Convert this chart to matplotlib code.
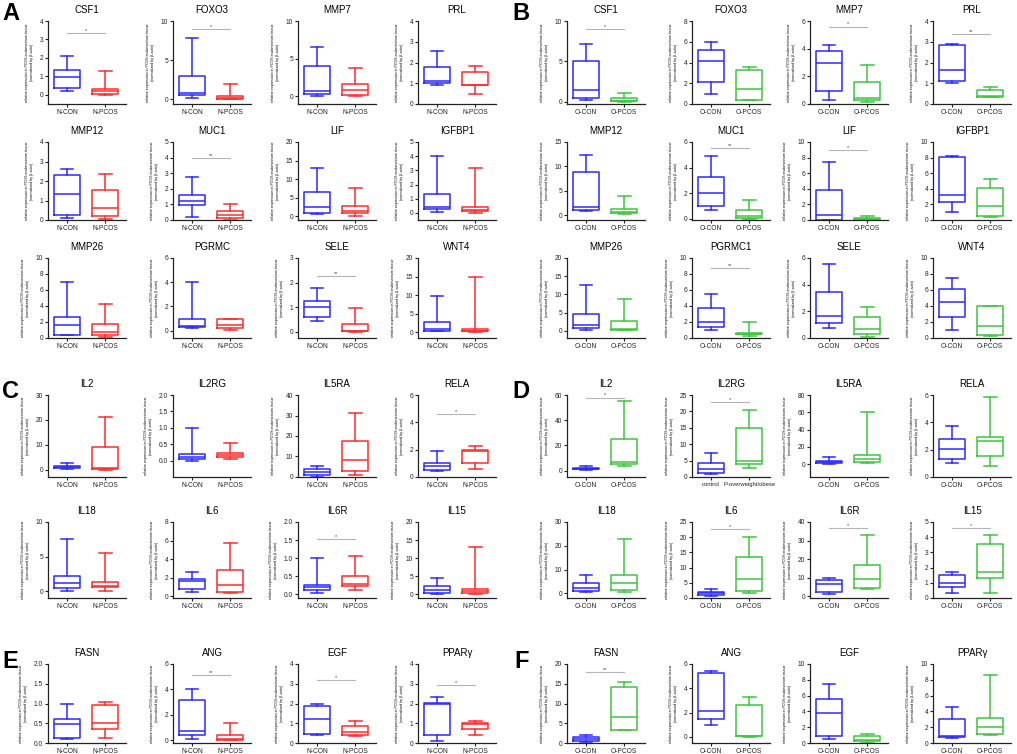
import matplotlib
matplotlib.use("Agg")
import matplotlib.pyplot as plt

plt.rcParams['font.family'] = ['Liberation Sans', 'DejaVu Sans']

# ---------------- DATA ----------------
# each box: [min, q1, median, q3, max]
A_titles = ["CSF1", "FOXO3", "MMP7", "PRL", "MMP12", "MUC1", "LIF", "IGFBP1",
            "MMP26", "PGRMC", "SELE", "WNT4"]
A_con = [[0.2, 0.38, 0.95, 1.35, 2.12], [0.2, 0.5, 0.8, 3.0, 7.8], [0.1, 0.3, 0.7, 4.0, 6.5],
         [0.93, 1.0, 1.1, 1.8, 2.55], [0.08, 0.27, 1.33, 2.3, 2.63], [0.2, 0.95, 1.25, 1.6, 2.78],
         [0.7, 1.0, 2.5, 6.6, 13.1], [0.05, 0.25, 0.4, 1.3, 4.0], [0.4, 0.4, 1.6, 2.6, 7.0],
         [0.25, 0.3, 0.35, 1.0, 4.0], [0.45, 0.62, 1.0, 1.25, 1.8], [0.3, 0.5, 1.0, 2.7, 9.7]]
A_pcos = [[0.0, 0.05, 0.2, 0.3, 1.27], [0.0, 0.05, 0.15, 0.4, 2.0], [0.05, 0.2, 0.9, 1.7, 3.8],
          [0.48, 0.9, 0.93, 1.55, 1.85], [0.05, 0.2, 0.6, 1.55, 2.38], [0.0, 0.15, 0.3, 0.55, 1.0],
          [0.2, 0.9, 1.3, 2.7, 7.6], [0.02, 0.1, 0.2, 0.4, 3.15], [0.1, 0.4, 0.8, 1.8, 4.2],
          [0.05, 0.25, 0.5, 0.95, 1.0], [0.0, 0.03, 0.05, 0.3, 0.97], [0.0, 0.3, 0.5, 0.8, 14.8]]
A_sig = ["*", "*", "", "", "", "**", "", "", "", "", "**", ""]
A_sig_y = [3.35, 9.0, 0, 0, 0, 4.0, 0, 0, 0, 0, 2.25, 0]
A_yticks = [[0, 1, 2, 3, 4], [0, 5, 10], [0, 5, 10], [0, 1, 2, 3, 4], [0, 1, 2, 3, 4],
            [0, 1, 2, 3, 4, 5], [0, 5, 10, 15, 20], [0, 1, 2, 3, 4, 5], [0, 2, 4, 6, 8, 10],
            [0, 2, 4, 6], [0, 1, 2, 3], [0, 5, 10, 15, 20]]
A_ybottom = [-0.5, -0.6, -1.0, 0, 0, 0, -1.0, -0.5, 0, -0.6, -0.25, -1.5]
A_groups = ["N-CON", "N-PCOS"]

B_titles = ["CSF1", "FOXO3", "MMP7", "PRL", "MMP12", "MUC1", "LIF", "IGFBP1",
            "MMP26", "PGRMC1", "SELE", "WNT4"]
B_con = [[0.25, 0.5, 1.4, 5.0, 7.2], [1.0, 2.15, 4.15, 5.25, 6.0], [0.3, 0.95, 3.0, 3.85, 4.25],
         [1.0, 1.1, 1.65, 2.85, 2.9], [0.8, 1.0, 1.6, 8.8, 12.4], [0.7, 1.0, 2.05, 3.3, 4.9],
         [0.0, 0.05, 0.65, 3.8, 7.4], [1.0, 2.25, 3.25, 8.1, 8.25], [0.3, 0.8, 1.6, 4.6, 12.6],
         [1.0, 1.4, 2.05, 3.7, 5.5], [0.75, 1.15, 1.65, 3.45, 5.55], [1.0, 2.6, 4.5, 6.1, 7.55]]
B_pcos = [[0.0, 0.05, 0.1, 0.5, 1.1], [0.35, 0.4, 1.45, 3.3, 3.6], [0.15, 0.3, 0.45, 1.6, 2.85],
          [0.33, 0.35, 0.38, 0.68, 0.8], [0.2, 0.4, 0.6, 1.3, 4.0], [0.0, 0.05, 0.25, 0.65, 1.5],
          [0.0, 0.02, 0.1, 0.3, 0.45], [0.35, 0.45, 1.75, 4.1, 5.3], [0.1, 0.3, 0.4, 2.8, 8.8],
          [0.3, 0.45, 0.55, 0.65, 1.95], [0.05, 0.3, 0.65, 1.55, 2.3], [0.3, 0.35, 1.55, 4.0, 4.05]]
B_sig = ["*", "", "*", "**", "", "**", "*", "", "", "**", "", ""]
B_sig_y = [9.0, 0, 5.6, 3.35, 0, 5.5, 9.0, 0, 0, 8.7, 0, 0]
B_yticks = [[0, 5, 10], [0, 2, 4, 6, 8], [0, 2, 4, 6], [0, 1, 2, 3, 4], [0, 5, 10, 15],
            [0, 2, 4, 6], [0, 2, 4, 6, 8, 10], [0, 2, 4, 6, 8, 10], [0, 5, 10, 15, 20],
            [0, 2, 4, 6, 8, 10], [0, 2, 4, 6], [0, 2, 4, 6, 8, 10]]
B_ybottom = [-0.3, 0, 0, 0, -1.0, -0.1, 0, 0, -2.0, 0, 0, 0]
B_groups = ["O-CON", "O-PCOS"]

C_titles = ["IL2", "IL2RG", "IL5RA", "RELA", "IL18", "IL6", "IL6R", "IL15"]
C_con = [[0.3, 0.5, 1.0, 1.5, 2.6], [0.0, 0.05, 0.1, 0.2, 1.0], [0.0, 1.0, 2.5, 4.0, 5.2],
         [0.45, 0.5, 0.8, 1.0, 1.9], [0.0, 0.4, 1.1, 2.2, 7.6], [0.45, 0.75, 1.6, 1.85, 2.6],
         [0.05, 0.12, 0.2, 0.25, 1.0], [0.0, 0.5, 1.3, 2.2, 4.6]]
C_pcos = [[0.0, 0.3, 0.6, 9.2, 21.0], [0.05, 0.1, 0.18, 0.23, 0.55], [1.0, 3.0, 8.5, 17.5, 31.3],
          [0.55, 1.0, 1.9, 2.0, 2.3], [0.0, 0.6, 0.8, 1.3, 5.5], [0.3, 0.4, 1.25, 2.8, 5.75],
          [0.12, 0.22, 0.3, 0.5, 1.07], [0.0, 0.5, 1.0, 1.5, 13.0]]
C_sig = ["", "", "", "*", "", "", "*", ""]
C_sig_y = [0, 0, 0, 4.6, 0, 0, 1.53, 0]
C_yticks = [[0, 10, 20, 30], [0.0, 0.5, 1.0, 1.5, 2.0], [0, 10, 20, 30, 40], [0, 2, 4, 6],
            [0, 5, 10], [0, 2, 4, 6, 8], [0.0, 0.5, 1.0, 1.5, 2.0], [0, 5, 10, 15, 20]]
C_ybottom = [-3.0, -0.5, 0, 0, -1.0, -0.2, -0.1, -1.0]
C_groups = ["N-CON", "N-PCOS"]

D_titles = ["IL2", "IL2RG", "IL5RA", "RELA", "IL18", "IL6", "IL6R", "IL15"]
D_con = [[0.5, 1.0, 1.5, 2.5, 3.5], [1.0, 1.2, 2.3, 4.2, 7.4], [0.5, 1.5, 2.5, 3.5, 8.5],
         [1.0, 1.35, 2.05, 2.8, 3.75], [0.5, 1.0, 2.2, 4.5, 7.7], [0.7, 1.1, 1.5, 2.0, 2.9],
         [1.0, 2.3, 6.3, 8.7, 9.8], [0.35, 0.7, 1.0, 1.5, 1.72]]
D_pcos = [[3.5, 5.0, 7.0, 25.0, 55.0], [2.6, 3.9, 4.9, 14.8, 20.3], [1.0, 2.5, 5.5, 10.5, 60.0],
          [0.8, 1.5, 2.6, 2.9, 5.85], [0.5, 1.5, 4.2, 7.8, 22.7], [1.8, 2.2, 6.2, 13.4, 20.0],
          [4.0, 4.5, 9.0, 17.0, 33.0], [0.35, 1.3, 1.72, 3.55, 4.17]]
D_sig = ["*", "*", "", "", "", "*", "*", "*"]
D_sig_y = [58, 23, 0, 0, 0, 22.7, 37, 4.6]
D_yticks = [[0, 20, 40, 60], [0, 5, 10, 15, 20, 25], [0, 20, 40, 60, 80], [0, 2, 4, 6],
            [0, 10, 20, 30], [0, 5, 10, 15, 20, 25], [0, 10, 20, 30, 40], [0, 1, 2, 3, 4, 5]]
D_ybottom = [-5.0, 0, -15.0, 0, -2.0, 0, -1.0, 0]
D_groups = ["O-CON", "O-PCOS"]
D_groups_il2rg = ["control", "P-overweight/obese"]

E_titles = ["FASN", "ANG", "EGF", "PPARγ"]
E_con = [[0.1, 0.13, 0.48, 0.62, 1.0], [0.1, 0.45, 0.75, 3.2, 4.0],
         [0.4, 0.45, 1.2, 1.88, 1.95], [0.1, 0.4, 2.0, 2.05, 2.32]]
E_pcos = [[0.12, 0.35, 0.5, 0.95, 1.05], [0.0, 0.05, 0.1, 0.45, 1.35],
          [0.33, 0.42, 0.58, 0.85, 1.1], [0.4, 0.72, 0.95, 1.02, 1.12]]
E_sig = ["", "**", "*", "*"]
E_sig_y = [0, 5.1, 3.2, 2.95]
E_yticks = [[0.0, 0.5, 1.0, 1.5, 2.0], [0, 2, 4, 6], [0, 1, 2, 3, 4], [0, 1, 2, 3, 4]]
E_ybottom = [0, -0.2, 0, 0]
E_groups = ["N-CON", "N-PCOS"]

F_titles = ["FASN", "ANG", "EGF", "PPARγ"]
F_con = [[0.3, 0.6, 0.9, 1.5, 2.0], [1.0, 1.5, 2.1, 5.25, 5.45],
         [0.55, 0.9, 3.75, 5.6, 7.45], [0.6, 0.7, 0.9, 3.05, 4.6]]
F_pcos = [[3.2, 3.3, 6.5, 14.1, 15.5], [0.0, 0.05, 0.1, 2.6, 3.3],
          [0.05, 0.2, 0.4, 0.85, 1.15], [1.0, 1.1, 2.0, 3.15, 8.6]]
F_sig = ["**", "", "", ""]
F_sig_y = [18, 0, 0, 0]
F_yticks = [[0, 5, 10, 15, 20], [0, 2, 4, 6], [0, 2, 4, 6, 8, 10], [0, 2, 4, 6, 8, 10]]
F_ybottom = [0, -0.5, 0, 0]
F_groups = ["O-CON", "O-PCOS"]

# ---------------- STYLE / LAYOUT ----------------
W, H = 1017, 754
BLUE = "#2a2aff"
RED = "#ff2b2b"
GREEN = "#3cc83c"
YLABEL = "relative expression in PCOS endometrium tissue\n(normalized by β-actin)"

fig = plt.figure(figsize=(W / 100, H / 100), dpi=100)

left_cols = [48, 173, 298, 418]
right_cols = [567, 692, 810, 933]
ax_w = 78
rows_AB = [(21, 104), (142, 220), (258, 338)]
rows_CD = [(395, 477), (522, 598)]
rows_EF = [(664, 743)]


def make_ax(xpx, top, bottom):
    return fig.add_axes([xpx / W, 1 - bottom / H, ax_w / W, (bottom - top) / H])


def draw(ax, title, con, pcos, color2, groups, sig, sig_y, yticks, ybot, xfs=4.8):
    stats = []
    for s in (con, pcos):
        stats.append(dict(whislo=s[0], q1=s[1], med=s[2], q3=s[3], whishi=s[4], fliers=[]))
    bp = ax.bxp(stats, positions=[1, 2], widths=0.68, patch_artist=False,
                showfliers=False)
    cols = [BLUE, color2]
    for i, c in enumerate(cols):
        bp['boxes'][i].set(color=c, linewidth=1.1)
        bp['medians'][i].set(color=c, linewidth=1.1)
        for j in (2 * i, 2 * i + 1):
            bp['whiskers'][j].set(color=c, linewidth=1.1)
            bp['caps'][j].set(color=c, linewidth=1.1)
    ax.set_xlim(0.5, 2.55)
    ax.set_ylim(ybot, yticks[-1])
    ax.set_yticks(yticks)
    ax.set_yticklabels([("%g" % t) if not isinstance(t, float) else ("%.1f" % t) for t in yticks])
    ax.set_xticks([1, 2])
    ax.set_xticklabels(groups)
    for sp in ("top", "right"):
        ax.spines[sp].set_visible(False)
    for sp in ("left", "bottom"):
        ax.spines[sp].set_linewidth(0.9)
        ax.spines[sp].set_color("#222222")
    ax.tick_params(axis="both", labelsize=4.8, length=2, width=0.8, pad=1.5, colors="#222222")
    ax.tick_params(axis="x", labelsize=xfs)
    ax.set_title(title, fontsize=7, pad=6)
    ax.set_ylabel(YLABEL, fontsize=2.6, labelpad=4, linespacing=1.3)
    if sig:
        ax.plot([1, 2], [sig_y, sig_y], color="#b5b5b5", linewidth=0.8)
        ax.text(1.5, sig_y, sig, ha="center", va="bottom", fontsize=4, color="#444444")


def panel(cols, rows, titles, con, pcos, color2, groups, sig, sig_y, yticks, ybot, alt_groups=None):
    k = 0
    for (top, bot) in rows:
        for c in range(4):
            ax = make_ax(cols[c], top, bot)
            g = groups
            xfs = 4.8
            if alt_groups is not None and k in alt_groups:
                g = alt_groups[k]
                xfs = 4.2
            draw(ax, titles[k], con[k], pcos[k], color2, g, sig[k], sig_y[k], yticks[k], ybot[k], xfs)
            k += 1


panel(left_cols, rows_AB, A_titles, A_con, A_pcos, RED, A_groups, A_sig, A_sig_y, A_yticks, A_ybottom)
panel(right_cols, rows_AB, B_titles, B_con, B_pcos, GREEN, B_groups, B_sig, B_sig_y, B_yticks, B_ybottom)
panel(left_cols, rows_CD, C_titles, C_con, C_pcos, RED, C_groups, C_sig, C_sig_y, C_yticks, C_ybottom)
panel(right_cols, rows_CD, D_titles, D_con, D_pcos, GREEN, D_groups, D_sig, D_sig_y, D_yticks, D_ybottom,
      alt_groups={1: D_groups_il2rg})
panel(left_cols, rows_EF, E_titles, E_con, E_pcos, RED, E_groups, E_sig, E_sig_y, E_yticks, E_ybottom)
panel(right_cols, rows_EF, F_titles, F_con, F_pcos, GREEN, F_groups, F_sig, F_sig_y, F_yticks, F_ybottom)

letters = [("A", 2, 14), ("B", 512, 14), ("C", 2, 392), ("D", 512, 392), ("E", 2, 662), ("F", 514, 662)]
for lab, x, y in letters:
    fig.text(x / W, 1 - y / H, lab, fontsize=17, fontweight="bold", ha="left", va="center")

fig.savefig("out.png", dpi=100)
